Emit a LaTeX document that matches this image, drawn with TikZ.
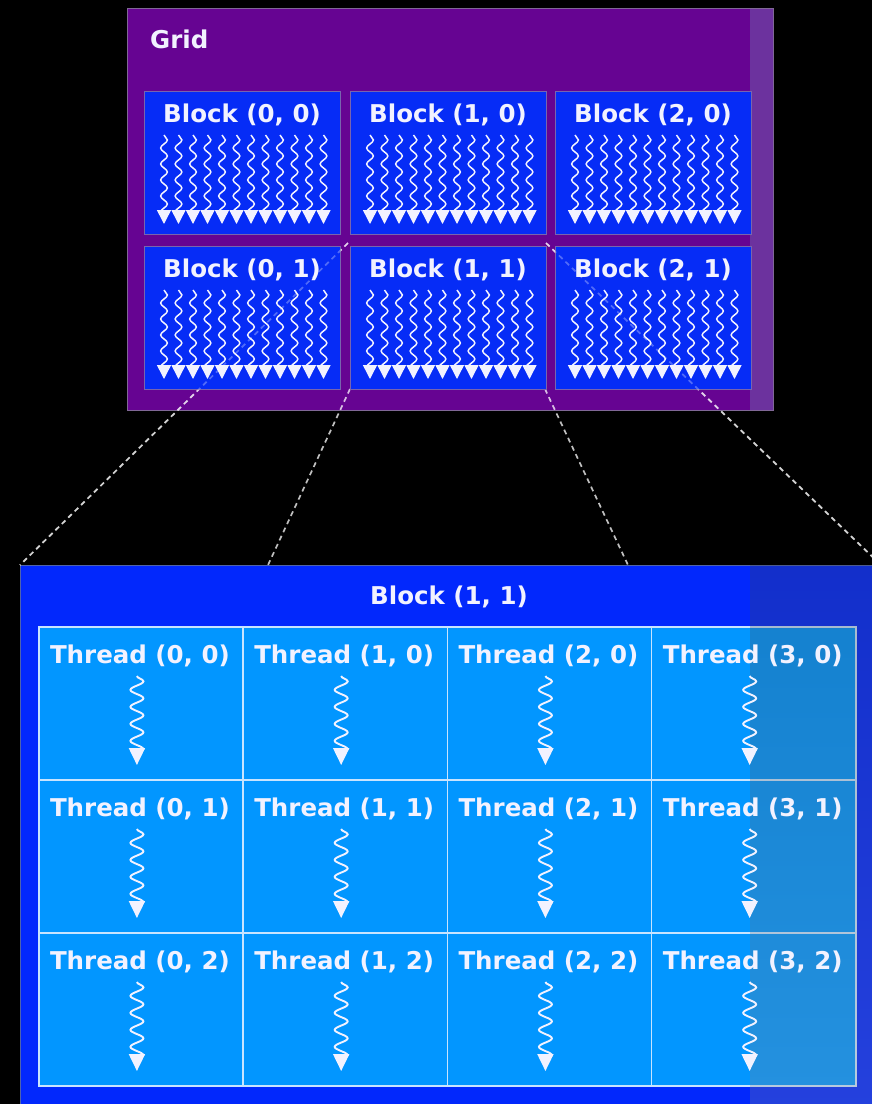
\documentclass[tikz,border=0pt]{standalone}
\usepackage{fontspec}
\setmainfont{DejaVu Sans}
\usetikzlibrary{decorations.pathmorphing,arrows.meta}
\definecolor{gridpurple}{RGB}{102,4,146}
\definecolor{gridstripe}{RGB}{108,50,158}
\definecolor{gridedge}{RGB}{128,104,150}
\definecolor{blockblue}{RGB}{6,44,246}
\definecolor{blockedge}{RGB}{120,100,175}
\definecolor{bigblue}{RGB}{2,40,252}
\definecolor{bigedge}{RGB}{80,100,170}
\definecolor{cellblue}{RGB}{2,150,255}
\definecolor{celledge}{RGB}{200,228,255}
\definecolor{txt}{RGB}{242,242,255}
\definecolor{shade}{RGB}{60,140,20}
\tikzset{
  gridbox/.style={draw=gridedge, line width=1pt, fill=gridpurple, anchor=north west, inner sep=0pt, minimum width=646pt, minimum height=402pt},
  blockbox/.style={draw=blockedge, line width=1pt, fill=blockblue, anchor=north west, inner sep=0pt, minimum width=196pt, minimum height=143pt},
  bigbox/.style={draw=bigedge, line width=1pt, fill=bigblue, anchor=north west, inner sep=0pt, minimum width=860pt, minimum height=545pt},
  cellbox/.style={draw=celledge, line width=1.6pt, fill=cellblue, anchor=north west, inner sep=0pt, minimum width=204.25pt, minimum height=153pt},
  lbl/.style={text=txt, font=\fontsize{24.5}{28}\selectfont\bfseries, inner sep=0pt},
  minithread/.style={draw=txt, line width=1.5pt, decorate, decoration={snake, amplitude=3.4pt, segment length=16pt, post length=6pt}, -{Triangle[width=14pt,length=14pt]}},
  threadarrow/.style={draw=txt, line width=1.9pt, decorate, decoration={snake, amplitude=6.5pt, segment length=17pt, post length=8pt}, -{Triangle[width=16pt,length=17pt]}},
  zoomline/.style={draw=white, line width=1.7pt, dash pattern=on 5pt off 4pt},
}
\begin{document}
\begin{tikzpicture}[x=1pt,y=-1pt]
\useasboundingbox (0,0) rectangle (872,1104);
\fill[black] (0,0) rectangle (872,1104);

% grid
\node[gridbox] (grid) at (127,8) {};
\fill[gridstripe] (750,8.5) rectangle (772.5,409.5);
\node[lbl, anchor=west] (gridlbl) at (150,39) {Grid};

% big block
\node[bigbox] (big) at (20,565) {};
\coordinate (bl) at (268,565);
\coordinate (br) at (628,565);

% corners of Block (1, 1)
\coordinate (b11nw) at (348,243);
\coordinate (b11ne) at (546,243);
\coordinate (b11sw) at (350,389);
\coordinate (b11se) at (545,389);

% zoom lines under blocks
\draw[zoomline, draw opacity=0.75] (b11nw) -- (big.north west);
\draw[zoomline, draw opacity=0.75] (b11ne) -- (big.north east);
\draw[zoomline, draw opacity=0.75] (b11sw) -- (bl);
\draw[zoomline, draw opacity=0.75] (b11se) -- (br);

% blocks
\foreach \c/\L in {0/144,1/350,2/555}{
  \foreach \r/\T in {0/91,1/246}{
    \node[blockbox] (b\c\r) at (\L,\T) {};
    \node[lbl] (bl\c\r) at (\L+98,\T+24) {Block (\c, \r)};
    \foreach \i in {0,...,11}{
      \pgfmathsetmacro{\xx}{\L+20+\i*14.5}
      \draw[minithread] (\xx,\T+44) -- (\xx,\T+133);
    }
  }
}

% zoom lines faintly over blocks
\draw[zoomline, draw opacity=0.3] (b11nw) -- (big.north west);
\draw[zoomline, draw opacity=0.3] (b11ne) -- (big.north east);

% big block label
\node[lbl] (biglbl) at (449,597) {Block (1, 1)};

% thread cells
\foreach \c in {0,1,2,3}{
  \foreach \r in {0,1,2}{
    \pgfmathsetmacro{\xo}{38+\c*204.25}
    \pgfmathsetmacro{\yo}{626+\r*153}
    \node[cellbox] (t\c\r) at (\xo,\yo) {};
  }
}

% shading stripe on the right of the big block
\fill[shade, fill opacity=0.14] (750,565) rectangle (872,1104);

% thread labels and arrows
\foreach \c in {0,1,2,3}{
  \foreach \r in {0,1,2}{
    \node[lbl] (tl\c\r) at ([xshift=-1pt,yshift=-30pt]t\c\r.north) {Thread (\c, \r)};
    \draw[threadarrow] ([xshift=-4pt,yshift=-50pt]t\c\r.north) -- ([xshift=-4pt,yshift=-139pt]t\c\r.north);
  }
}
\end{tikzpicture}
\end{document}
